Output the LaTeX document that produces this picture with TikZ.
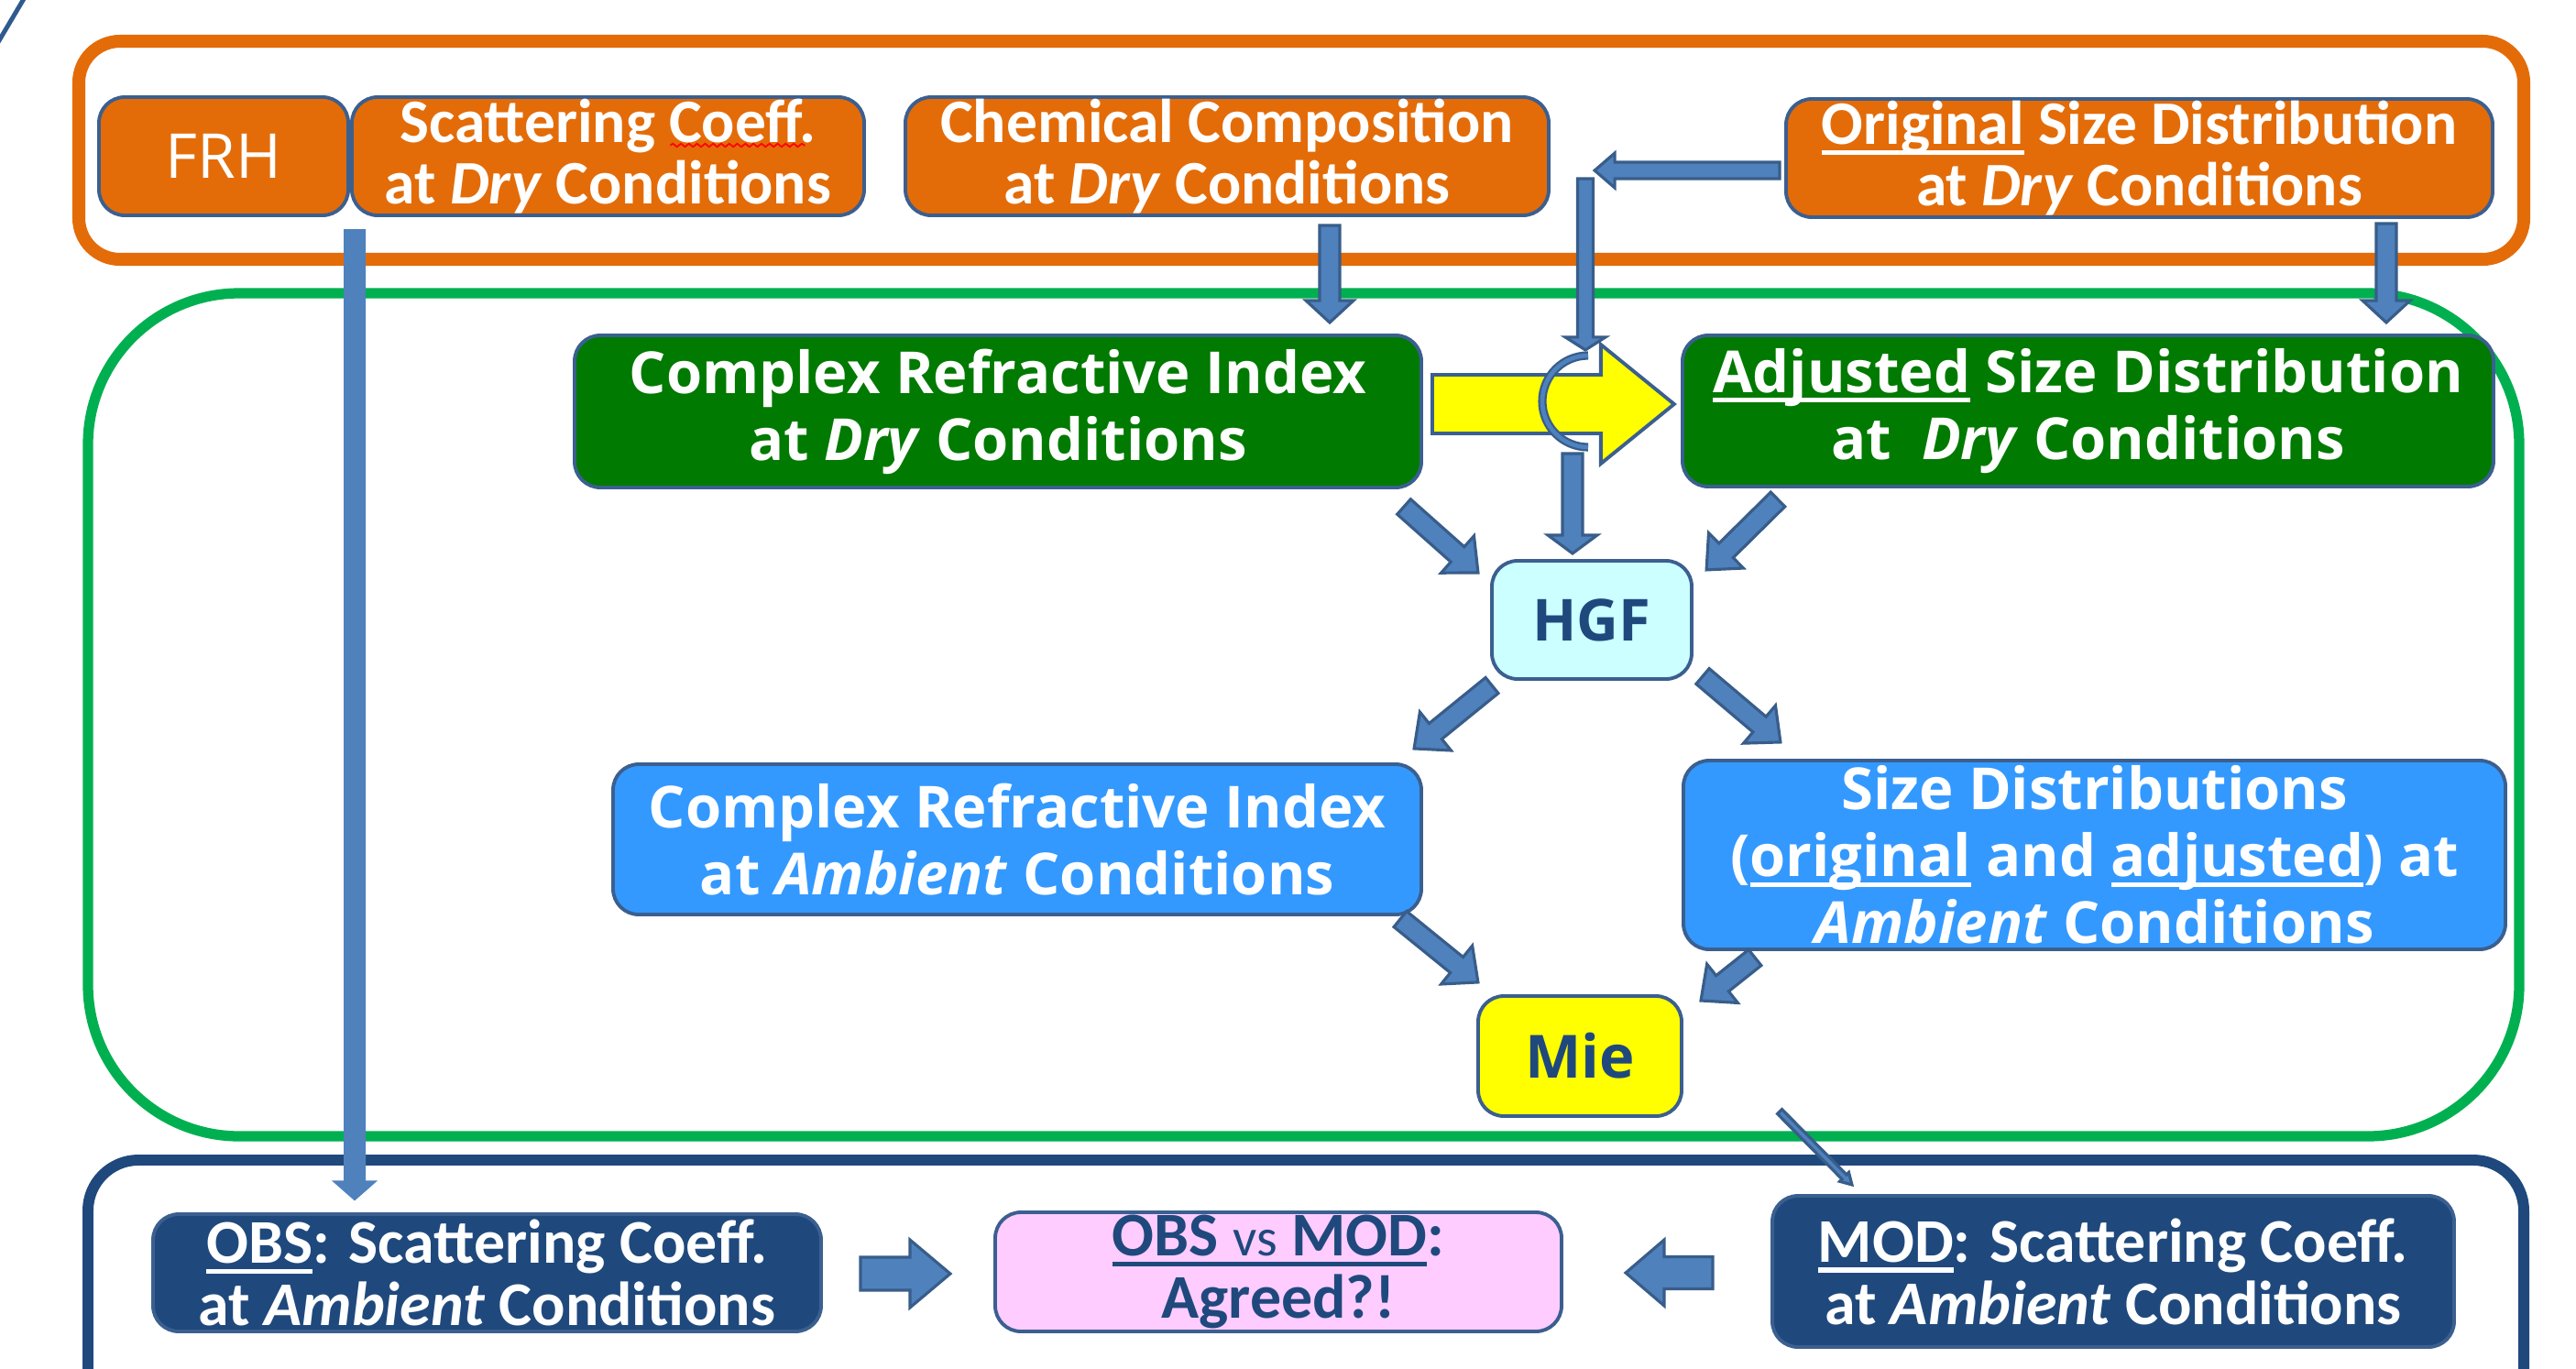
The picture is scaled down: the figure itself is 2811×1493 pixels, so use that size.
\documentclass[tikz,border=0pt]{standalone}
\usepackage{fontspec}
\setmainfont{Carlito}
\newfontfamily\osans{Open Sans}
\usetikzlibrary{calc,decorations.pathmorphing}
\definecolor{orng}{HTML}{E36C09}
\definecolor{edge}{HTML}{3B5F8F}
\definecolor{dgreen}{HTML}{007A00}
\definecolor{lblue}{HTML}{3399FF}
\definecolor{navy}{HTML}{1F497D}
\definecolor{cyanbox}{HTML}{CCFFFF}
\definecolor{pinkbox}{HTML}{FFCCFF}
\definecolor{arrfill}{HTML}{4F81BD}
\definecolor{arredge}{HTML}{385D8A}
\definecolor{grn}{HTML}{00B050}
\definecolor{ylw}{HTML}{FFFF00}
\definecolor{diag}{HTML}{2F5A8F}

\newsavebox\ulbox
\newcommand\uline[1]{\sbox\ulbox{#1}\rlap{\rule[-0.17em]{\wd\ulbox}{0.075em}}\usebox\ulbox}

% block arrow: [style]{tail}{tip}{shaft width}{head width}{head length}  (px units)
\newcommand\barrow[6][blockarrow]{%
  \path let \p1=(#2), \p2=(#3) in \pgfextra{%
    \pgfmathparse{atan2(\y2-\y1,\x2-\x1)}\xdef\baang{\pgfmathresult}%
    \pgfmathparse{veclen(\x2-\x1,\y2-\y1)/0.284528}\xdef\balen{\pgfmathresult}};
  \draw[#1, shift={(#2)}, rotate=\baang] (0,{-#4/2}) -- ({\balen-#6},{-#4/2}) -- ({\balen-#6},{-#5/2}) -- (\balen,0) -- ({\balen-#6},{#5/2}) -- ({\balen-#6},{#4/2}) -- (0,{#4/2}) -- cycle;
}

\begin{document}
\begin{tikzpicture}[x=0.01cm,y=0.01cm,
  blockarrow/.style={fill=arrfill, draw=arredge, line width=0.9pt, line join=miter},
  lightarrow/.style={fill=arrfill, draw=none},
  yarrow/.style={fill=ylw, draw=edge, line width=1.1pt, line join=miter},
  bx/.style={rectangle, rounded corners=0.28cm, draw=edge, line width=1.1pt, inner sep=0pt, align=center},
  sz/.style 2 args={minimum width=#1*0.01cm, minimum height=#2*0.01cm},
  obox/.style={bx, fill=orng, text=white, font=\bfseries\fontsize{19.2}{18.9}\selectfont},
  gbox/.style={bx, fill=dgreen, text=white, font=\osans\bfseries\fontsize{18}{20.8}\selectfont},
  bbox/.style={bx, fill=lblue, text=white, font=\osans\bfseries\fontsize{18}{20.8}\selectfont},
  nbox/.style={bx, fill=navy, text=white, font=\bfseries\fontsize{19.3}{19.4}\selectfont},
  pbox/.style={bx, fill=pinkbox, text=navy, font=\bfseries\fontsize{19.3}{19.4}\selectfont},
  kbox/.style={bx, fill=cyanbox, text=navy, font=\osans\bfseries\fontsize{18}{20}\selectfont},
  ybox/.style={bx, fill=ylw, text=navy, font=\osans\bfseries\fontsize{18.5}{20}\selectfont}
]
\useasboundingbox (0,0) rectangle (2811,-1493);
\fill[white] (0,0) rectangle (2811,-1493);

% containers
\begin{scope}
\clip (0,0) rectangle (2811,-1493);
\draw[diag, line width=1.4pt] (-2,-46) -- (27,3);
\draw[orng, line width=4pt, rounded corners=0.45cm] (86,-45) rectangle (2754,-283);
\draw[grn, line width=3.2pt, rounded corners=1.65cm] (96,-320) rectangle (2749,-1240);
\draw[navy, line width=3.4pt, rounded corners=0.55cm] (96,-1266) rectangle (2754,-1620);
\end{scope}

% nodes
\node[obox, sz={272}{129}, font=\osans\fontsize{19.2}{20}\selectfont] (frh) at (244,-170.5) {FRH};
\node[obox, sz={559}{129}] (scd) at (663.5,-170.5) {Scattering Coeff.\\at \textit{Dry} Conditions};
\node[obox, sz={702}{129}] (chem) at (1339,-170.5) {Chemical Composition\\at \textit{Dry} Conditions};
\node[obox, sz={771}{129}] (orig) at (2334.5,-172.5) {\uline{Original} Size Distribution\\at \textit{Dry} Conditions};
\node[gbox, sz={924}{166}] (crid) at (1089,-449) {Complex Refractive Index\\at \textit{Dry} Conditions};
\node[gbox, sz={885}{165}] (adj) at (2278.5,-448.5) {\uline{Adjusted} Size Distribution\\at~ \textit{Dry} Conditions};
\node[kbox, sz={218}{129}] (hgf) at (1737,-676.5) {HGF};
\node[bbox, sz={882}{164}] (cria) at (1110,-916) {Complex Refractive Index\\at \textit{Ambient} Conditions};
\node[bbox, sz={897}{206}] (sizd) at (2285.5,-933) {Size Distributions\\(\uline{original} and \uline{adjusted}) at\\\textit{Ambient} Conditions};
\node[ybox, sz={222}{131}] (mie) at (1724,-1152.5) {Mie};
\node[nbox, sz={729}{128}] (obs) at (531.5,-1389) {\uline{OBS}: Scattering Coeff.\\at \textit{Ambient} Conditions};
\node[pbox, sz={618}{130}] (ovm) at (1395,-1388) {\uline{OBS {\mdseries\fontsize{16.5}{19}\selectfont vs} MOD}:\\Agreed?!};
\node[nbox, sz={744}{165}] (mod) at (2306,-1387.5) {\uline{MOD}: Scattering Coeff.\\at \textit{Ambient} Conditions};

% spell-check squiggle under "Coeff."
\draw[red, line width=0.5pt, decorate, decoration={snake, amplitude=0.5pt, segment length=2.5pt}] ($(scd.center)+(68,12)$) -- ($(scd.center)+(215,12)$);

% arrow end points
\coordinate (a1t) at (387,-250);   \coordinate (a1h) at (387,-1311);
\coordinate (a2t) at (1451,-246);  \coordinate (a2h) at (1451,-352);
\coordinate (a3t) at (2604,-244);  \coordinate (a3h) at (2604,-352);
\coordinate (a4t) at (1942,-186);  \coordinate (a4h) at (1740,-186);
\coordinate (a5t) at (1730,-195);  \coordinate (a5h) at (1730,-382);
\coordinate (a6t) at (1716,-495);  \coordinate (a6h) at (1716,-604);
\coordinate (yt) at (1563,-441);   \coordinate (yh) at (1827,-441);
\coordinate (a7t) at (1532,-553);  \coordinate (a7h) at (1613,-625);
\coordinate (a8t) at (1940,-545);  \coordinate (a8h) at (1862,-622);
\coordinate (a9t) at (1628,-748);  \coordinate (a9h) at (1543,-817);
\coordinate (a10t) at (1858,-738); \coordinate (a10h) at (1943,-810);
\coordinate (a11t) at (1528,-1003);\coordinate (a11h) at (1613,-1072);
\coordinate (a12t) at (1915,-1045);\coordinate (a12h) at (1856,-1092);
\coordinate (a13t) at (1942,-1213);\coordinate (a13h) at (2021,-1293);
\coordinate (a14t) at (939,-1390); \coordinate (a14h) at (1037,-1390);
\coordinate (a15t) at (1869,-1389);\coordinate (a15h) at (1774,-1389);

% arrows
\barrow[lightarrow]{a1t}{a1h}{24}{50}{22}
\barrow{a2t}{a2h}{22}{52}{24}
\barrow{a3t}{a3h}{22}{52}{24}
\barrow{a4t}{a4h}{18}{38}{22}
\barrow[yarrow]{yt}{yh}{64}{130}{80}
\barrow{a5t}{a5h}{17}{44}{14}
\draw[arredge, line width=2.6pt] (1733,-388) arc[start angle=90, end angle=270, radius=50];
\draw[arrfill, line width=1.3pt] (1733,-388) arc[start angle=90, end angle=270, radius=50];
\barrow{a6t}{a6h}{22}{54}{20}
\barrow{a7t}{a7h}{22}{54}{30}
\barrow{a8t}{a8h}{22}{54}{30}
\barrow{a9t}{a9h}{22}{54}{30}
\barrow{a10t}{a10h}{22}{54}{30}
\barrow{a11t}{a11h}{22}{54}{30}
\barrow{a12t}{a12h}{22}{54}{30}
\barrow{a13t}{a13h}{7}{14}{12}
\barrow{a14t}{a14h}{36}{74}{44}
\barrow{a15t}{a15h}{35}{72}{42}
\end{tikzpicture}
\end{document}
